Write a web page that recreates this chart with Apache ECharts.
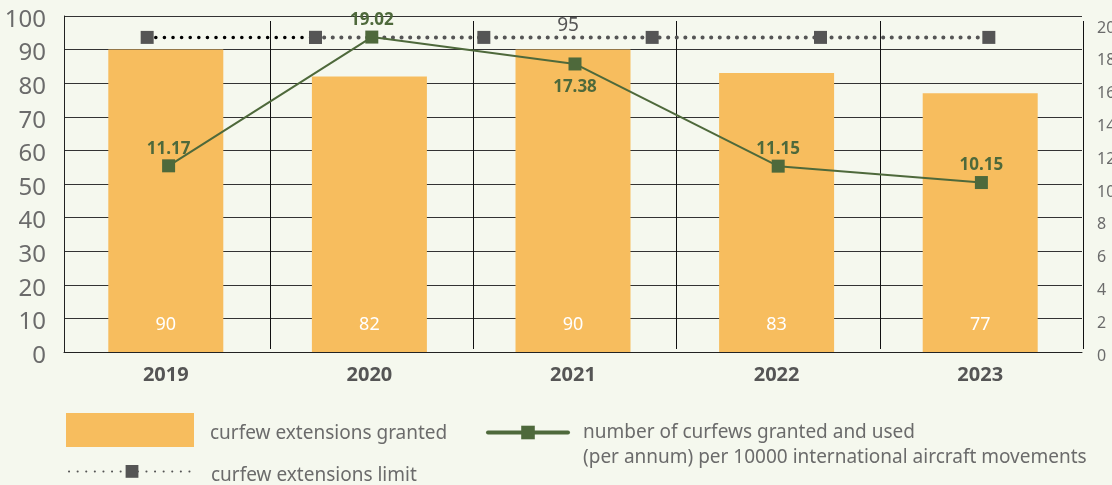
<!DOCTYPE html>
<html>
<head>
<meta charset="utf-8">
<script src="https://cdn.jsdelivr.net/npm/echarts@6/dist/echarts.min.js"></script>
<style>
  html, body { margin: 0; padding: 0; background: #f5f8ee; }
  #chart { width: 1112px; height: 485px; }
</style>
</head>
<body>
<div id="chart"></div>
<script>
// Years on the category axis
const years = ['2019', '2020', '2021', '2022', '2023'];
// Curfew extensions granted per year (left axis)
const extensionsGranted = [90, 82, 90, 83, 77];
// Curfews granted and used per 10000 international movements (right axis)
const curfewsPer10000 = [11.17, 19.02, 17.38, 11.15, 10.15];
// Limit line: six evenly spaced markers across the plot
const limitSlots = ['s1', 's2', 's3', 's4', 's5', 's6'];
const extensionsLimit = [95, 95, 95, 95, 95, 95];
// Axis scales
const leftScale = { min: 0, max: 100, interval: 10 };
const rightScale = { min: 0, max: 20, interval: 2 };

const NAME_GRANTED = 'curfew extensions granted';
const NAME_USED = 'number of curfews granted and used\n(per annum) per 10000 international aircraft movements';
const NAME_LIMIT = 'curfew extensions limit';

const FONT = 'Noto Sans';
const BAR = '#f7bd5e';
const GREEN = '#4e693b';
const GREY = '#555555';
const TEXT = '#6b6b6b';

const chart = echarts.init(document.getElementById('chart'), null, { renderer: 'canvas' });

const dotted = (color, width) => ({ color, width, type: [0.1, 8.5], cap: 'round' });

// legend text nudged slightly below the icon centre
const legendText = {
  fontSize: 19, color: TEXT, fontFamily: FONT,
  rich: { t: { fontSize: 19, color: TEXT, fontFamily: FONT, padding: [8, 0, 0, 11] } }
};

chart.setOption({
  backgroundColor: '#f5f8ee',
  animation: false,
  textStyle: { fontFamily: FONT },
  grid: [
    { left: 64, top: 16, width: 1018, height: 336, outerBoundsMode: 'none' },
    { left: 67, top: 21, width: 1016, height: 328, outerBoundsMode: 'none' },
    { left: 63, top: 21, width: 1010, height: 328, outerBoundsMode: 'none' }
  ],
  xAxis: [
    {
      gridIndex: 0, type: 'category', data: years,
      axisLine: { show: true, lineStyle: { color: '#222', width: 1 } },
      axisTick: { show: false },
      splitLine: { show: false },
      axisLabel: { fontSize: 20, fontWeight: 'bold', color: GREY, margin: 13, fontFamily: FONT }
    },
    {
      gridIndex: 1, type: 'category', data: years,
      axisLine: { show: false }, axisTick: { show: false }, axisLabel: { show: false },
      splitLine: { show: true, interval: (i) => i !== 0, lineStyle: { color: '#111', width: 1 } }
    },
    { gridIndex: 2, type: 'category', data: limitSlots, show: false }
  ],
  yAxis: [
    {
      gridIndex: 0, type: 'value', ...leftScale,
      axisLine: { show: true, lineStyle: { color: '#222', width: 1 } },
      axisTick: { show: false },
      splitLine: { show: true, lineStyle: { color: '#333', width: 1 } },
      axisLabel: {
        margin: 18, formatter: '{v|{value}}',
        rich: { v: { fontSize: 24, color: TEXT, padding: [8, 0, 0, 0], fontFamily: FONT } }
      }
    },
    {
      gridIndex: 1, type: 'value', position: 'right', ...rightScale,
      axisLine: { show: false }, axisTick: { show: false }, splitLine: { show: false },
      axisLabel: {
        margin: 14, formatter: '{v|{value}}',
        rich: { v: { fontSize: 16, color: TEXT, padding: [14, 0, 0, 0], fontFamily: FONT } }
      }
    },
    { gridIndex: 2, type: 'value', ...leftScale, show: false }
  ],
  legend: [
    {
      data: [NAME_GRANTED], left: 66, top: 413, padding: 0,
      itemWidth: 128, itemHeight: 34, icon: 'rect', selectedMode: false,
      formatter: '{t|{name}}',
      textStyle: legendText
    },
    {
      // leading blank line keeps the first text line level with the icon
      data: [NAME_USED], left: 486, top: 395, padding: 0,
      itemWidth: 80, itemHeight: 17, selectedMode: false,
      formatter: (name) => ' \n' + name,
      lineStyle: { width: 4, cap: 'round' },
      textStyle: { fontSize: 19, color: TEXT, lineHeight: 25, padding: [0, 0, 0, 10], fontFamily: FONT }
    },
    {
      data: [NAME_LIMIT], left: 68, top: 465, padding: 0,
      itemWidth: 126, itemHeight: 16, selectedMode: false,
      formatter: '{t|{name}}',
      textStyle: legendText
    }
  ],
  series: [
    {
      name: NAME_GRANTED, type: 'bar', xAxisIndex: 0, yAxisIndex: 0,
      data: extensionsGranted, barWidth: 115,
      itemStyle: { color: BAR },
      label: { show: true, position: 'insideBottom', distance: 18, color: '#fff', fontSize: 18, fontFamily: FONT }
    },
    {
      // dark first stretch of the limit line
      name: NAME_LIMIT + ' (2019)', type: 'line', xAxisIndex: 2, yAxisIndex: 2,
      data: extensionsLimit.map((v, i) => (i < 2 ? v : '-')),
      symbol: 'rect', symbolSize: 13,
      itemStyle: { color: GREY },
      lineStyle: dotted('#000', 3.5),
      z: 3
    },
    {
      name: NAME_LIMIT, type: 'line', xAxisIndex: 2, yAxisIndex: 2,
      data: extensionsLimit.map((v, i) => (i < 1 ? '-' : v)),
      symbol: 'rect', symbolSize: 13,
      itemStyle: { color: GREY },
      lineStyle: dotted(GREY, 4),
      z: 3,
      markLine: {
        silent: true, symbol: 'none',
        lineStyle: { color: 'rgba(0,0,0,0)', width: 0 },
        label: { show: true, position: 'middle', formatter: '{c}', color: GREY, fontSize: 19, distance: 2, fontFamily: FONT },
        data: [[
          { coord: [limitSlots[0], extensionsLimit[0]], value: extensionsLimit[0] },
          { coord: [limitSlots[limitSlots.length - 1], extensionsLimit[extensionsLimit.length - 1]] }
        ]]
      }
    },
    {
      name: NAME_USED, type: 'line', xAxisIndex: 1, yAxisIndex: 1,
      data: curfewsPer10000.map((v, i) => (i === 2 ? { value: v, label: { position: 'bottom', distance: 8 } } : v)),
      symbol: 'rect', symbolSize: 13,
      itemStyle: { color: GREEN },
      lineStyle: { color: GREEN, width: 2 },
      label: { show: true, position: 'top', distance: 2, color: GREEN, fontSize: 17, fontWeight: 'bold', fontFamily: FONT },
      z: 4
    }
  ]
});
</script>
</body>
</html>
